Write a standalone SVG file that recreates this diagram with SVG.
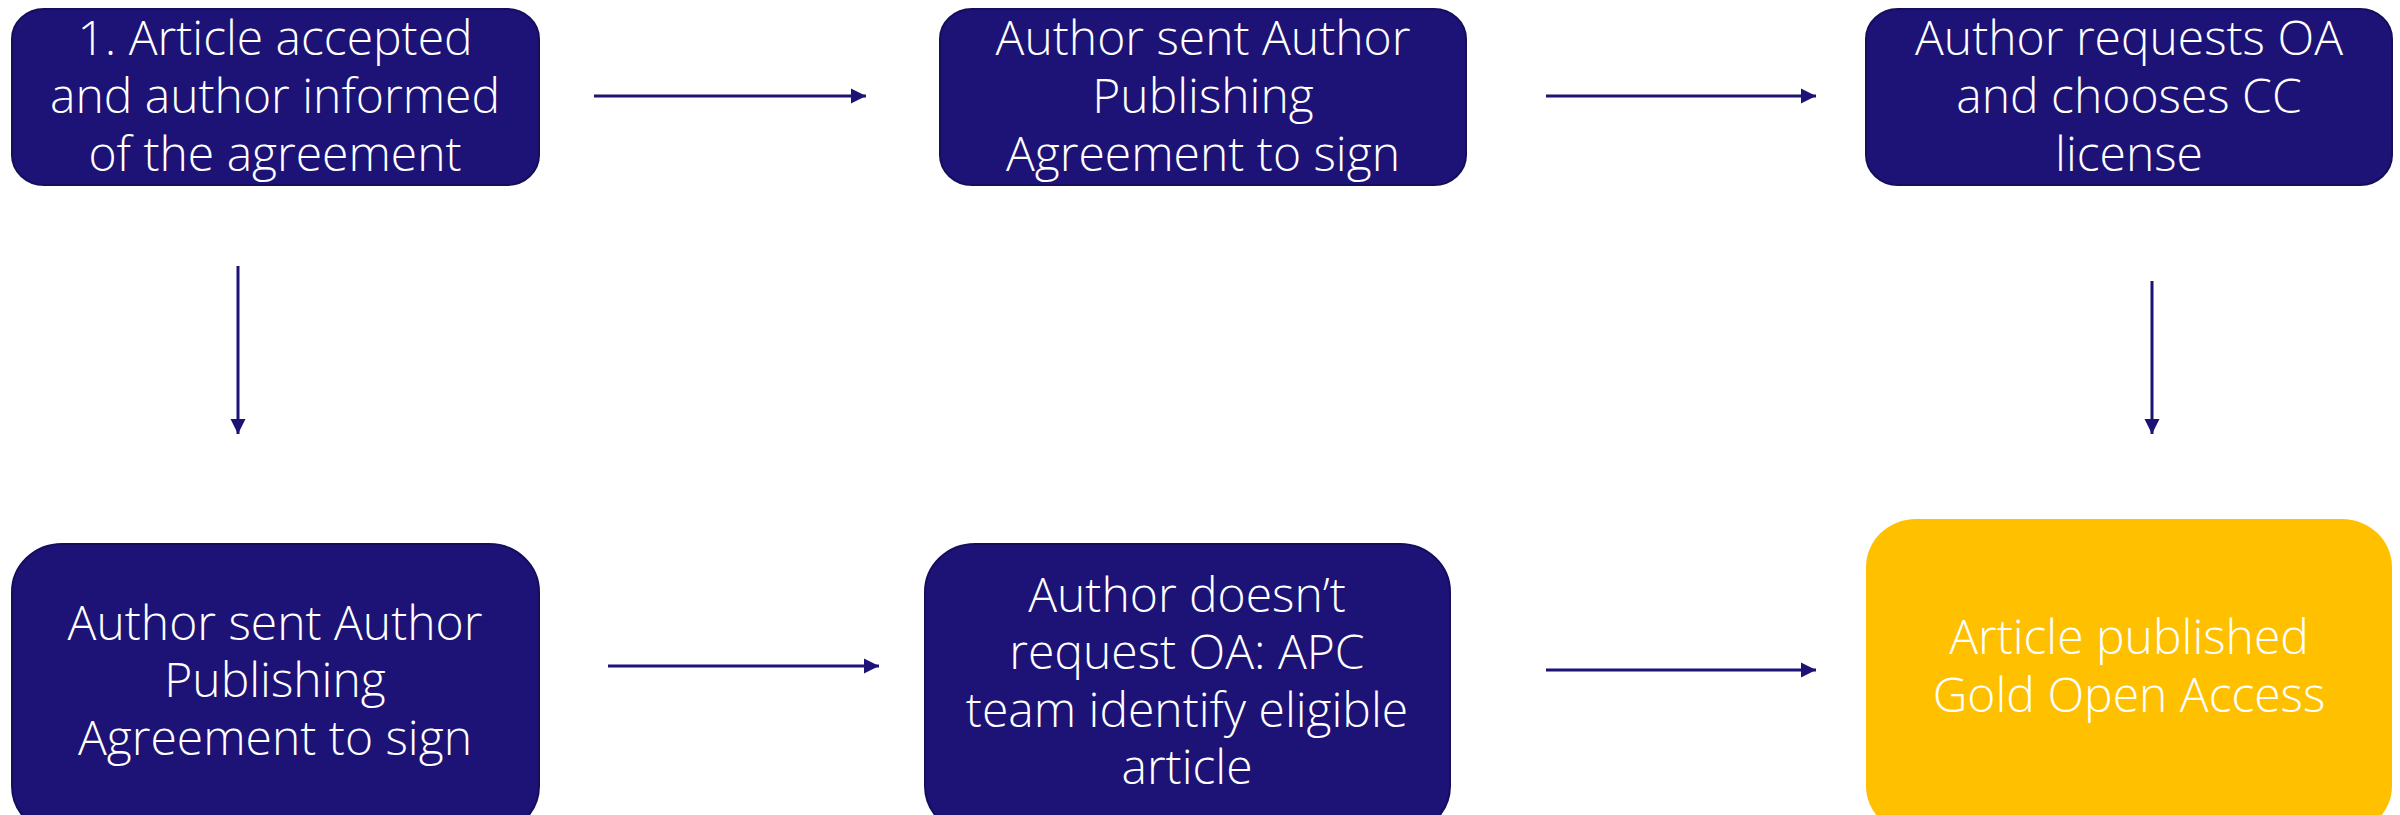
<svg xmlns="http://www.w3.org/2000/svg" width="2400" height="815" viewBox="0 0 2400 815">
<defs>
<style>
.box{fill:#1d1377;stroke:#150e5c;stroke-width:2}
.gold{fill:#ffc000;stroke:none}
.t{font-family:"Open Sans","Liberation Sans",sans-serif;font-weight:300;font-size:48px;fill:#ffffff;text-anchor:middle}
.c{stroke:#1d1377;stroke-width:3;fill:none;marker-end:url(#ah)}
</style>
<marker id="ah" viewBox="0 0 10 10" refX="10" refY="5" markerUnits="userSpaceOnUse" markerWidth="15" markerHeight="16" orient="auto">
<path d="M0,0 L10,5 L0,10 Z" fill="#1d1377"/>
</marker>
</defs>
<g id="node1">
<rect class="box" x="12" y="9" width="527" height="176" rx="32" ry="30"/>
<text class="t" x="275" y="55">1. Article accepted</text>
<text class="t" x="275" y="113">and author informed</text>
<text class="t" x="275" y="171">of the agreement</text>
</g>
<g id="node2">
<rect class="box" x="940" y="9" width="526" height="176" rx="32" ry="30"/>
<text class="t" x="1203" y="55">Author sent Author</text>
<text class="t" x="1203" y="113">Publishing</text>
<text class="t" x="1203" y="171">Agreement to sign</text>
</g>
<g id="node3">
<rect class="box" x="1866" y="9" width="526" height="176" rx="32" ry="30"/>
<text class="t" x="2129" y="55">Author requests OA</text>
<text class="t" x="2129" y="113">and chooses CC</text>
<text class="t" x="2129" y="171">license</text>
</g>
<g id="node4">
<rect class="box" x="12" y="544" width="527" height="290" rx="50" ry="48"/>
<text class="t" x="275" y="640">Author sent Author</text>
<text class="t" x="275" y="697">Publishing</text>
<text class="t" x="275" y="755">Agreement to sign</text>
</g>
<g id="node5">
<rect class="box" x="925" y="544" width="525" height="290" rx="50" ry="48"/>
<text class="t" x="1187" y="612">Author doesn’t</text>
<text class="t" x="1187" y="669">request OA: APC</text>
<text class="t" x="1187" y="727">team identify eligible</text>
<text class="t" x="1187" y="784">article</text>
</g>
<g id="node6">
<rect class="gold" x="1866" y="519" width="526" height="315" rx="50" ry="48"/>
<text class="t" x="2129" y="654">Article published</text>
<text class="t" x="2129" y="712">Gold Open Access</text>
</g>
<g id="connectors">
<line class="c" x1="594" y1="96" x2="866" y2="96"/>
<line class="c" x1="1546" y1="96" x2="1816" y2="96"/>
<line class="c" x1="238" y1="266" x2="238" y2="434"/>
<line class="c" x1="2152" y1="281" x2="2152" y2="434"/>
<line class="c" x1="608" y1="666" x2="879" y2="666"/>
<line class="c" x1="1546" y1="670" x2="1816" y2="670"/>
</g>
</svg>
